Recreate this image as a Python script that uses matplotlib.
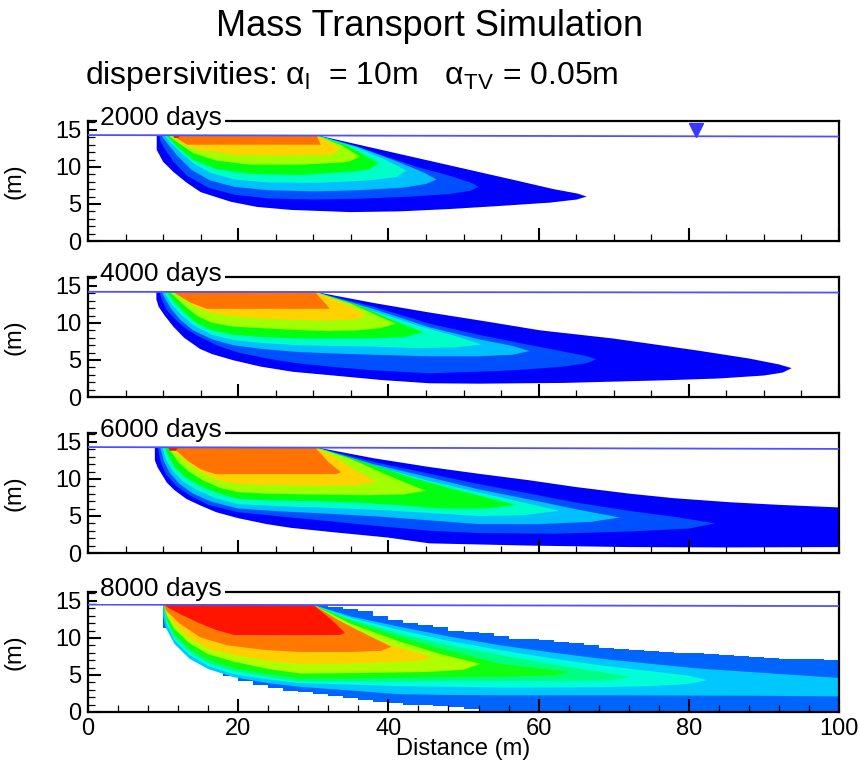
import matplotlib
matplotlib.use('Agg')
import matplotlib.pyplot as plt
from matplotlib.ticker import MultipleLocator

plt.rcParams['font.family'] = ['Liberation Sans', 'DejaVu Sans']
plt.rcParams['mathtext.fontset'] = 'custom'
plt.rcParams['mathtext.rm'] = 'Liberation Sans'
plt.rcParams['mathtext.it'] = 'Liberation Sans:italic'

# ---------------- data ----------------
TITLE = 'Mass Transport Simulation'
SUBTITLE = r'dispersivities: α$_\mathrm{l}$  = 10m   α$_\mathrm{TV}$ = 0.05m'
TIMES = ['2000 days', '4000 days', '6000 days', '8000 days']
LEVEL_COLORS = ['#0000FF', '#0050FF', '#00C0FF', '#00FFC8', '#00FF10',
                '#A0FF00', '#FFD200', '#FF7400', '#FF1400']
P4_COLORS = ['#0064FF', '#00C8FF', '#00FFD8', '#00FF80', '#10FF10',
             '#B0FF00', '#FFD000', '#FF7800', '#FF1400']
X_TICKS = [0, 20, 40, 60, 80, 100]
Y_TICKS = [0, 5, 10, 15]

# water table (x, elevation) per panel
WT_X = [0, 100]
WT_Y = [[14.3, 14.1], [14.2, 14.1], [14.3, 14.05], [14.5, 14.3]]
MARKER_X = [81.0]
MARKER_Y = [15.05]

# contour band outlines (x, elevation in m), one list per level
P1_LEVEL = [0, 1, 2, 3, 4, 5, 6, 7, 8]
P1_X = [
    [9.15, 30.4, 39.3, 48.2, 57.1, 62.0, 65.2, 66.4, 65.1, 61.5, 54.8, 48.2, 41.5, 34.9, 27.0, 22.5, 19.0, 15.0, 13.1, 11.4, 10.0, 9.15],
    [9.5, 30.4, 37.0, 43.8, 48.2, 51.2, 52.0, 51.0, 48.2, 43.0, 36.0, 30.0, 24.0, 19.5, 16.0, 13.2, 11.4, 10.1, 9.6],
    [9.8, 30.4, 36.0, 41.5, 44.8, 46.4, 45.0, 42.0, 36.0, 30.5, 24.0, 19.5, 16.2, 13.8, 12.0, 10.7, 10.0],
    [10.1, 30.4, 35.5, 39.5, 42.4, 41.0, 37.0, 30.5, 24.0, 19.5, 16.3, 14.0, 12.3, 11.0, 10.4],
    [10.4, 30.4, 34.5, 37.0, 38.7, 37.5, 35.8, 28.2, 21.6, 17.1, 14.0, 11.8, 10.8],
    [10.7, 30.4, 33.8, 36.2, 35.0, 34.0, 28.2, 21.6, 17.1, 14.0, 11.8, 11.0],
    [11.0, 30.4, 33.6, 32.5, 31.4, 26.0, 19.4, 14.9, 13.0, 12.0],
    [11.3, 30.4, 31.0, 13.2, 12.2],
    [11.3, 12.3, 12.0, 11.5],
]
P1_Y = [
    [14.3, 14.3, 12.25, 10.2, 8.15, 7.0, 6.4, 6.0, 5.6, 5.18, 4.73, 4.32, 4.0, 3.9, 4.2, 4.6, 5.3, 6.6, 7.9, 9.3, 10.7, 12.3],
    [14.3, 14.3, 12.3, 10.0, 8.8, 7.8, 7.3, 6.8, 6.35, 6.0, 5.7, 5.6, 5.75, 6.25, 7.2, 8.8, 10.7, 12.6, 13.6],
    [14.3, 14.3, 12.7, 10.6, 9.2, 8.3, 7.7, 7.2, 6.85, 6.7, 6.85, 7.3, 8.2, 9.6, 11.4, 13.0, 13.9],
    [14.3, 14.3, 12.7, 11.0, 9.5, 8.6, 8.15, 7.85, 7.9, 8.3, 9.2, 10.5, 12.0, 13.3, 14.0],
    [14.3, 14.3, 12.9, 11.5, 10.5, 9.7, 9.4, 8.9, 9.05, 9.7, 10.95, 12.75, 13.9],
    [14.3, 14.3, 12.9, 11.4, 10.8, 10.6, 10.3, 10.3, 10.85, 11.85, 13.4, 14.0],
    [14.3, 14.3, 12.5, 11.7, 11.6, 11.5, 11.6, 12.3, 12.9, 13.6],
    [14.3, 14.3, 13.0, 13.0, 13.6],
    [14.3, 14.3, 13.9, 13.9],
]

P2_LEVEL = [0, 1, 2, 3, 4, 5, 6, 7]
P2_X = [
    [9.1, 30.2, 38, 45.5, 53, 60.2, 69.9, 81, 88, 92, 93.7, 92.5, 90, 84, 76.6, 63.3, 52, 45.5, 39, 32.7, 27.3, 23, 19.35, 16.5, 14.9, 12.8, 11.4, 10.2, 9.4, 9.1],
    [9.5, 30.2, 38, 45.5, 52, 58.9, 63, 66.5, 67.7, 66.5, 63.3, 58, 54.4, 45.5, 38, 32.7, 27.5, 23.8, 20, 17.1, 14.5, 12.7, 11.5, 10.5, 9.9],
    [9.8, 30.2, 38, 45.5, 52, 56.5, 58.8, 56.5, 52, 45.5, 38, 32, 27.6, 23, 19.3, 16.5, 14, 12.2, 11, 10.3],
    [10.1, 30.2, 38, 44, 49, 52.4, 49, 44, 38, 32, 27.6, 23, 19.3, 16.5, 14.2, 12.5, 11.2, 10.6],
    [10.4, 30.2, 36, 40, 43, 44.7, 42, 38, 32, 27.6, 23, 19.3, 16.5, 14.4, 12.8, 11.5, 10.9],
    [10.7, 30.2, 35, 38.5, 41, 39, 35.9, 32, 27.6, 23, 19.3, 16.5, 14.6, 13.0, 11.8, 11.2],
    [11.0, 30.2, 33.5, 36, 37, 35.9, 32, 27.6, 23, 19.3, 16.5, 14.5, 12.8, 11.6],
    [11.3, 30.2, 31.8, 32.2, 15.8, 13.5],
]
P2_Y = [
    [14.2, 14.2, 12.7, 11.4, 10.2, 9.0, 7.9, 6.3, 5.2, 4.4, 3.9, 3.3, 2.9, 2.5, 2.25, 1.9, 1.8, 1.85, 2.3, 2.9, 3.4, 4.1, 4.96, 5.8, 6.5, 8.0, 9.46, 11.0, 12.2, 13.2],
    [14.2, 14.2, 12.2, 9.9, 8.4, 7.0, 6.2, 5.5, 5.1, 4.6, 4.1, 3.7, 3.5, 3.2, 3.6, 4.05, 4.6, 5.2, 6.0, 7.0, 8.3, 9.46, 10.6, 11.7, 13.0],
    [14.2, 14.2, 11.9, 9.4, 7.8, 6.9, 6.2, 5.7, 5.5, 5.5, 5.7, 5.9, 6.1, 6.5, 7.0, 7.8, 9.0, 10.5, 12.0, 13.2],
    [14.2, 14.2, 11.6, 9.6, 8.2, 7.1, 6.7, 6.6, 6.8, 6.9, 7.0, 7.3, 7.7, 8.4, 9.6, 11.0, 12.4, 13.4],
    [14.2, 14.2, 12.4, 10.6, 9.4, 8.7, 8.1, 7.9, 7.9, 7.9, 8.1, 8.4, 9.0, 10.0, 11.4, 12.8, 13.6],
    [14.2, 14.2, 12.6, 11.0, 9.9, 9.3, 9.0, 8.9, 9.05, 9.3, 9.5, 10.0, 10.9, 12.2, 13.3, 13.9],
    [14.2, 14.2, 12.9, 11.7, 11.2, 10.5, 10.3, 10.4, 10.6, 10.9, 11.3, 12.1, 13.2, 14.0],
    [14.2, 14.2, 12.4, 11.9, 11.9, 12.8],
]

P3_LEVEL = [0, 1, 2, 3, 4, 5, 6, 7, 8]
P3_X = [
    [8.9, 30.2, 38, 45.5, 52, 58.9, 65, 72.2, 78, 85.5, 92, 100, 100, 85, 72, 58.9, 45.5, 39.8, 32.7, 27, 23.8, 20, 17.1, 15, 13.1, 11.5, 10.5, 9.3, 8.9],
    [9.3, 30.2, 38, 45.5, 52, 58.9, 65, 72, 78, 83.5, 80, 72, 62, 52, 45.5, 39, 32, 26, 20, 16, 13.5, 11.8, 10.4, 9.7],
    [9.6, 30.2, 38, 45.5, 52, 58.9, 65, 70.8, 67, 60, 52, 45.5, 39, 32, 26, 20, 16.5, 14, 12.2, 10.9, 10.1],
    [9.9, 30.2, 38, 45.5, 52, 58, 62.8, 58, 52, 45.5, 39, 32, 26, 20, 17, 14.5, 12.6, 11.3, 10.4],
    [10.2, 30.2, 37, 43, 48, 53, 57, 53, 47, 42, 36, 30, 24, 20, 17.5, 15, 13, 11.6, 10.8],
    [10.5, 30.2, 35, 39, 42.5, 45, 42, 37, 30, 24, 20, 17.5, 15.3, 13.4, 12, 11.2],
    [10.8, 30.2, 33, 35.5, 38.5, 36, 30, 24, 20, 17.5, 15.5, 13.8, 12.3, 11.5],
    [11.1, 30.2, 32, 33.7, 33, 17, 15, 13.2, 12],
    [10.6, 12.0, 11.7, 10.9],
]
P3_Y = [
    [14.3, 14.3, 12.8, 11.6, 10.7, 9.8, 8.9, 8.0, 7.4, 6.85, 6.5, 6.15, 0.8, 0.75, 0.8, 1.0, 1.3, 2.1, 2.8, 3.4, 3.9, 4.7, 5.5, 6.4, 7.3, 8.5, 9.5, 11.5, 12.5],
    [14.3, 14.3, 12.3, 10.7, 9.3, 8.0, 6.8, 5.7, 4.9, 4.0, 3.3, 2.9, 2.6, 2.7, 3.0, 3.6, 4.3, 4.9, 5.5, 6.5, 7.8, 9.0, 10.6, 12.2],
    [14.3, 14.3, 12.0, 10.2, 8.6, 7.2, 5.9, 4.8, 4.2, 3.9, 3.9, 4.4, 4.9, 5.3, 5.6, 6.0, 6.9, 8.0, 9.3, 10.8, 12.4],
    [14.3, 14.3, 11.8, 9.7, 8.2, 6.8, 5.7, 5.1, 5.0, 5.4, 5.8, 6.1, 6.3, 6.6, 7.4, 8.5, 9.7, 11.1, 12.6],
    [14.3, 14.3, 12.2, 10.2, 8.8, 7.5, 6.5, 6.0, 6.0, 6.4, 6.8, 7.0, 7.1, 7.3, 8.0, 9.0, 10.2, 11.5, 12.9],
    [14.3, 14.3, 12.7, 10.9, 9.4, 8.4, 7.9, 7.8, 7.9, 8.0, 8.2, 8.8, 9.8, 11.0, 12.3, 13.5],
    [14.3, 14.3, 12.9, 11.2, 9.6, 9.15, 9.1, 9.2, 9.3, 9.8, 10.7, 11.8, 13.0, 13.8],
    [14.3, 14.3, 12.3, 10.9, 10.65, 10.65, 11.3, 12.5, 13.6],
    [14.3, 14.3, 13.8, 13.8],
]

# 8000 days: outer (coarse-grid, stepped) band
P4_STEP_X = [10, 12, 14, 16, 18, 20, 22, 24, 26, 28, 30, 32, 34, 36, 38, 40, 42, 44, 46, 48,
             50, 52, 54, 56, 58, 60, 62, 64, 66, 68, 70, 72, 74, 76, 78, 80, 82, 84, 86, 88,
             90, 92, 94, 96, 98, 100]
P4_STEP_TOP = [14.45, 14.45, 14.45, 14.45, 14.45, 14.45, 14.45, 14.45, 14.45, 14.45, 14.45, 14.2,
               13.9, 13.6, 13.0, 12.4, 12.0, 11.8, 11.5, 11.0, 10.8, 10.6, 10.3, 9.9, 9.8, 9.7,
               9.5, 9.3, 9.0, 8.6, 8.45, 8.35, 8.25, 8.1, 8.0, 7.9, 7.85, 7.7, 7.5, 7.4, 7.3, 7.2,
               7.15, 7.1, 7.05, 7.0]
P4_STEP_BOT = [11.3, 10.0, 7.4, 5.9, 4.9, 4.2, 3.6, 3.2, 2.9, 2.7, 2.4, 2.1, 1.9, 1.6, 1.4,
               1.15, 1.0, 0.9, 0.85, 0.65, 0.35, 0.2, 0.0, 0.0, 0.0, 0.0, 0.0, 0.0, 0.0, 0.0, 0.0,
               0.0, 0.0, 0.0, 0.0, 0.0, 0.0, 0.0, 0.0, 0.0, 0.0, 0.0, 0.0, 0.0, 0.0, 0.0]
P4_STEP_LEVEL = 0
P4_LEVEL = [1, 2, 3, 4, 5, 6, 7, 8]
P4_X = [
    [10.0, 30.0, 35, 41.5, 48, 54.9, 62, 68.2, 75, 81.5, 88.2, 94, 100, 100, 88, 70, 55, 48, 41.5, 35, 28.2, 24, 19.4, 16, 13.5, 11.5, 10.3, 10.0],
    [10.05, 30, 35, 41.5, 48, 54.9, 62, 68.2, 75, 80, 82.4, 80, 75, 68, 60, 54.9, 48, 41.5, 35, 28.2, 24, 19.4, 16, 13.5, 11.5, 10.4],
    [10.1, 30, 35, 41.5, 48, 54.9, 62, 68.2, 72.2, 70, 64, 54.9, 48, 41.5, 35, 28.2, 24, 19.4, 16, 13.5, 11.5, 10.45],
    [10.1, 30, 35, 41.5, 48, 54.9, 60, 64.2, 62, 55, 48, 41.5, 35, 28.2, 24, 19.4, 16, 13.5, 11.5, 10.5],
    [10.1, 30, 35, 41.5, 47, 52.2, 50, 45, 41.5, 35, 28.2, 24, 19.4, 16, 13.5, 11.5, 10.5],
    [10.1, 30, 34, 38, 41.5, 46, 44, 41.5, 37, 32, 28.2, 24, 19.4, 16, 13.5, 11.5, 10.3],
    [10.1, 30, 33.5, 37, 40.4, 39, 35, 28.2, 23.8, 18.5, 14.9, 12.2, 10.4],
    [10.2, 30.0, 31.7, 33.2, 34.2, 33.5, 28.2, 19.4, 17, 14.8, 12.5, 10.8],
]
P4_Y = [
    [14.45, 14.45, 12.9, 11.5, 10.2, 9.0, 8.0, 7.2, 6.5, 5.85, 5.4, 5.0, 4.6, 2.1, 2.2, 2.25, 2.25, 2.3, 2.4, 2.9, 3.4, 3.9, 4.7, 5.8, 7.2, 9.2, 11.5, 13.0],
    [14.45, 14.45, 12.7, 11.05, 9.6, 8.35, 7.2, 6.3, 5.5, 4.9, 4.3, 3.8, 3.5, 3.35, 3.3, 3.3, 3.4, 3.5, 3.7, 3.9, 4.4, 5.1, 6.2, 7.7, 9.7, 12.0],
    [14.45, 14.45, 12.5, 10.6, 9.0, 7.66, 6.4, 5.4, 4.7, 4.3, 4.2, 4.2, 4.15, 4.1, 4.1, 4.1, 4.7, 5.5, 6.6, 8.1, 10.1, 12.3],
    [14.45, 14.45, 12.3, 10.15, 8.3, 6.5, 5.9, 5.4, 4.95, 4.75, 4.7, 4.6, 4.5, 4.5, 5.1, 5.9, 7.0, 8.5, 10.5, 12.5],
    [14.45, 14.45, 11.9, 9.5, 7.8, 6.5, 5.7, 5.4, 5.35, 5.25, 5.2, 5.8, 6.8, 7.8, 9.3, 11.2, 13.0],
    [14.45, 14.45, 11.8, 9.9, 8.6, 7.4, 6.9, 6.8, 6.6, 6.5, 6.5, 6.9, 7.7, 8.6, 10.0, 11.9, 13.8],
    [14.45, 14.45, 12.3, 10.5, 8.8, 8.25, 8.1, 8.1, 8.35, 9.0, 10.1, 11.95, 13.7],
    [14.45, 14.45, 13.07, 11.7, 10.7, 10.4, 10.37, 10.4, 11.1, 12.0, 13.1, 14.0],
]

PANELS_LEVEL = [P1_LEVEL, P2_LEVEL, P3_LEVEL, P4_LEVEL]
PANELS_X = [P1_X, P2_X, P3_X, P4_X]
PANELS_Y = [P1_Y, P2_Y, P3_Y, P4_Y]
PANELS_COLORS = [LEVEL_COLORS, LEVEL_COLORS, LEVEL_COLORS, P4_COLORS]

# ---------------- layout ----------------
W, H = 860, 765
fig = plt.figure(figsize=(W / 100, H / 100), dpi=100)
fig.patch.set_facecolor('white')

AX_LEFT, AX_RIGHT = 88, 839
PANEL_TOPS = [121, 277, 433, 592]
PANEL_H = 120

fig.text(430 / W, 1 - 27 / H, TITLE, ha='center', va='center', fontsize=26)
fig.text(85 / W, 1 - 76 / H, SUBTITLE, ha='left', va='center', fontsize=23)

for i in range(4):
    top = PANEL_TOPS[i]
    ax = fig.add_axes([AX_LEFT / W, 1 - (top + PANEL_H) / H,
                       (AX_RIGHT - AX_LEFT) / W, PANEL_H / H])
    ax.set_xlim(0, 100)
    ax.set_ylim(0, 16.2)
    colors = PANELS_COLORS[i]

    if i == 3:
        ax.fill_between(P4_STEP_X, P4_STEP_BOT, P4_STEP_TOP, step='post',
                        color=colors[P4_STEP_LEVEL], lw=0, zorder=1)
    for lev, xs, ys in zip(PANELS_LEVEL[i], PANELS_X[i], PANELS_Y[i]):
        ax.fill(xs, ys, color=colors[lev], lw=0, zorder=1)

    ax.plot(WT_X, WT_Y[i], color='#5050FF', lw=1.3, zorder=3)
    if i == 0:
        ax.plot(MARKER_X, MARKER_Y, marker='v', ms=10, color='#3838FF',
                ls='none', zorder=4)

    ax.xaxis.set_major_locator(MultipleLocator(20))
    ax.xaxis.set_minor_locator(MultipleLocator(4 if i == 3 else 5))
    ax.yaxis.set_major_locator(MultipleLocator(5))
    ax.yaxis.set_minor_locator(MultipleLocator(1))
    ax.set_yticks(Y_TICKS)
    ax.tick_params(which='major', direction='in', length=9.5, width=1.5,
                   top=False, right=False, labelsize=17, pad=5)
    ax.tick_params(which='minor', direction='in', length=5, width=0.9,
                   top=False, right=False)
    for sp in ax.spines.values():
        sp.set_linewidth(1.6)
    if i < 3:
        ax.tick_params(axis='x', labelbottom=False)
    else:
        ax.set_xticks(X_TICKS)
        ax.tick_params(axis='x', pad=4)
        ax.set_xlabel('Distance (m)', fontsize=17)
        ax.xaxis.set_label_coords(0.5, -0.215)

    ax.set_ylabel('(m)', fontsize=17)
    ax.yaxis.set_label_coords(-0.083, 0.5)

    ax.text(0.016, 0.967, TIMES[i], transform=ax.transAxes, fontsize=19,
            ha='left', va='baseline', zorder=6, clip_on=False,
            bbox=dict(boxstyle='square,pad=0.12', fc='white', ec='none'))

fig.savefig('out.png', dpi=100, facecolor='white')
